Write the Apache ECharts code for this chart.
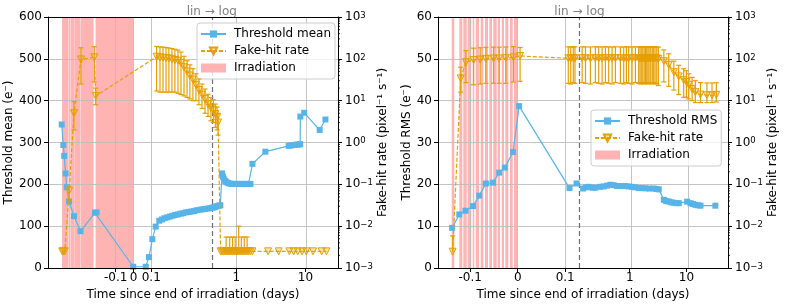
<!DOCTYPE html>
<html><head><meta charset="utf-8">
<script src="https://cdn.jsdelivr.net/npm/echarts@6/dist/echarts.min.js"></script>
<style>html,body{margin:0;padding:0;background:#fff}#c{width:785px;height:306px}</style>
</head><body><div id="c"></div>
<script>
// ---------- DATA (left panel: threshold mean) ----------
const tMeanA = [-0.403,-0.394,-0.389,-0.381,-0.375,-0.362,-0.334,-0.297,-0.216,-0.207,-0.001,0.069,0.087,0.106,0.125,0.145,0.16,0.175,0.19,0.205,0.22,0.235,0.25,0.265,0.28,0.295,0.31,0.325,0.34,0.355,0.37,0.385,0.40,0.415,0.43,0.45,0.47,0.49,0.51,0.535,0.56,0.585,0.62,0.64,0.66,0.69,0.72,0.76,0.80,0.85,0.90,0.95,1.0,1.05,1.1,1.2,1.3,1.4,1.5,1.6,1.71,2.63,5.73,6.2,6.8,7.5,8.0,8.4,8.45,9.6,16.1,19.5];
const meanA = [343,294,268,226,193,159,124,88,132,133,3,3,26,69,99,113,116,119,121,123,125,127,128,130,131,133,134,135,136,138,139,140,141,142,143,144,145,146,147,148,149,150,226,218,212,208,205,203,202,201,201,201,201,201,201,201,201,201,201,201,249,278,292,293,294,295,295,296,362,371,330,355];

const tFhrA = [-0.400,-0.394,-0.386,-0.361,-0.334,-0.295,-0.220,-0.212,
  0.130,0.149,0.166,0.183,0.199,0.216,0.233,0.250,0.267,0.284,0.301,0.317,0.334,0.351,0.368,0.385,0.402,0.419,0.435,0.464,0.496,0.525,0.543,
  0.59,0.62,0.65,0.68,0.71,0.74,0.77,0.80,0.84,0.88,0.92,0.96,1.0,1.04,1.08,1.13,1.18,1.24,1.30,1.36,1.43,1.51,1.6,
  1.71,2.88,4.1,5.86,6.77,7.74,8.96,10.3,12.9,17.2,20.2];
const fhrA = [0.0025,0.0025,0.0025,0.07,5.0,97,109,13,
  112,108,106,104,102,98,94,90,80,63,50,40,32,24,18,14,11,8.2,6.8,6,4.8,4,3,
  0.0025,0.0025,0.0025,0.0025,0.0025,0.0025,0.0025,0.0025,0.0025,0.0025,0.0025,0.0025,0.0025,0.0025,0.0025,0.0025,0.0025,0.0025,0.0025,0.0025,0.0025,0.0025,0.0025,
  0.0025,0.0025,0.0025,0.0025,0.0025,0.0025,0.0025,0.0025,0.0025,0.0025,0.0025];
const fhrUpA = [0,0,0,0.02,4.5,87,86,7,
  85,85,85,82,80,78,75,72,65,52,40,32,26,20,15,11,8,6,5,4.5,3.5,3,2,
  0,0,0,0,0.003,0,0,0.003,0,0.003,0,0.003,0,0,0.0075,0,0.003,0,0.003,0,0.003,0,0,
  0,0,0,0,0,0,0,0,0,0,0];
const fhrDownA = [0,0,0,0.028,3.0,72,81,5,
  95,92,90,88,86,82,78,75,66,50,38,29,22,14,10,7.5,6,4,3.5,3,2.5,2,1.5,
  0,0,0,0,0,0,0,0,0,0,0,0,0,0,0,0,0,0,0,0,0,0,0,
  0,0,0,0,0,0,0,0,0,0,0];
const irrStartA = [-0.401,-0.365,-0.351,-0.329,-0.295,-0.213];
const irrEndA   = [-0.367,-0.353,-0.330,-0.297,-0.224,-0.001];

// ---------- DATA (right panel: threshold RMS) ----------
const tRmsB = [-0.138,-0.123,-0.110,-0.094,-0.081,-0.067,-0.052,-0.039,-0.027,-0.010,0.003,0.109,0.124,0.151,0.17,0.189,0.22,0.248,0.3,0.348,0.4,0.457,0.52,0.6,0.7,0.84,0.95,1.1,1.25,1.44,1.65,1.89,2.2,2.65,2.95,3.25,4.0,4.4,4.88,5.4,6.0,6.6,7.35,10.3,11.8,13.0,14.4,16.0,17.7,32.4];
const rmsB = [9.6,12.8,13.7,14.8,17.3,20.2,20.4,22.8,24.0,27.7,38.7,19.1,20.2,19.0,19.3,19.4,19.2,19.2,19.4,19.5,19.7,19.9,19.8,19.6,19.6,19.6,19.5,19.4,19.3,19.1,19.1,19.05,19.0,19.0,18.9,18.8,16.3,16.0,15.9,15.7,15.6,15.5,15.5,15.85,15.5,15.3,15.1,15.0,14.9,14.9];

const tFhrB = [-0.137,-0.120,-0.109,-0.093,-0.079,-0.067,-0.051,-0.039,-0.025,-0.009,0.005,
  0.1065,0.1116,0.117,0.1206,0.145,0.166,0.203,0.248,0.284,0.326,0.373,0.426,0.489,0.56,0.685,0.784,0.875,0.96,1.1,1.26,1.44,
  1.52,1.6,1.7,1.8,1.9,2.0,2.1,2.2,2.35,2.5,2.65,2.8,3.0,3.2,
  4.0,4.88,6.0,7.3,8.95,10.0,11.0,12.6,14.4,17.7,23.0,28.3,33.7];
const fhrB = [0.00245,34,83,94,96,100,102,102,104,108,117,
  103,102,104,103,104,103,102,104,103,102,104,103,102,104,103,102,104,103,102,104,103,
  102,104,103,102,104,103,102,104,103,102,104,103,102,100,
  88,72,48,38,31,28,24,19,16,14,13.5,13.5,13.8];
const fhrUpB = [0.0034,29,74,86,88,88,88,88,88,88,70,
  90,90,90,90,90,90,90,90,90,90,90,90,90,90,90,90,90,90,90,90,90,
  90,90,90,90,90,90,90,90,90,90,90,90,90,90,
  75,60,40,32,27,24,20,17,14,13,13,13,13];
const fhrDownB = [0,18,56,70,71,74,76,76,78,80,88,
  77,77,77,77,77,77,77,77,77,77,77,77,77,77,77,77,77,77,77,77,77,
  77,77,77,77,77,77,77,77,77,77,77,77,77,77,
  60,50,30,24,19,16,13,9,7,5,4.5,4.5,4.5];
const irrStartB = [-0.1389,-0.1229,-0.1145,-0.1053,-0.0947,-0.0884,-0.0779,-0.0688,-0.0598,-0.0514,-0.0421,-0.0337,-0.0261,-0.0162,-0.0078];
const irrEndB   = [-0.1335,-0.1166,-0.1074,-0.0977,-0.0914,-0.0815,-0.0724,-0.0625,-0.0541,-0.0442,-0.0373,-0.0288,-0.0198,-0.0105,0.0];

// ---------- ticks / labels ----------
const xTickT = [-0.1, 0, 0.1, 1, 10];
const xTickLabels = ['-0.1', '0', '0.1', '1', '10'];
const yTicksA = [0,100,200,300,400,500,600];
const yTicksB = [0,10,20,30,40,50,60];
const logTicks = [0.001,0.01,0.1,1,10,100,1000];
const fhrLimit = 0.0025;

// ---------- styling ----------
const FONT = 'DejaVu Sans';
const BLUE = '#56B4E9', ORANGE = '#E69F00', PINK = '#ffb3b3', GRIDC = '#bdbdbd', GREY = '#808080';

// symlog-like x transform (linear up to t0, logarithmic after)
const PA = {t0:0.44, k:69/178, uMin:-0.48, uMax:1.149};
const PB = {t0:0.13, k:56.7/475, uMin:-0.1678, uMax:0.4427};
function fwd(t, P) { return t <= P.t0 ? t : P.t0 + P.k * Math.log10(t / P.t0); }

function xLabel(v, P) {
  let best = 0, bd = 1e9;
  xTickT.forEach((t, i) => { const d = Math.abs(fwd(t, P) - v); if (d < bd) { bd = d; best = i; } });
  return xTickLabels[best];
}
function logLabel(v) {
  const e = Math.round(Math.log10(v));
  return '{b|10}{s|' + (e < 0 ? '\u2212' + (-e) : String(e)) + '}';
}

function xAxes(gi, P) {
  return [{
    type:'value', gridIndex:gi, position:'bottom', min:P.uMin, max:P.uMax, z:10,
    axisLine:{onZero:false, lineStyle:{color:'#000', width:1}},
    axisTick:{show:true, customValues:xTickT.map(t => fwd(t, P)), length:4, lineStyle:{color:'#000'}},
    axisLabel:{customValues:xTickT.map(t => fwd(t, P)), formatter:v => xLabel(v, P), color:'#000', fontSize:12, margin:4, fontFamily:FONT, interval:0},
    splitLine:{show:false},
    name:'Time since end of irradiation (days)', nameLocation:'middle', nameGap:18,
    nameTextStyle:{color:'#000', fontSize:12, fontFamily:FONT}
  }, {
    type:'value', gridIndex:gi, position:'top', min:P.uMin, max:P.uMax, z:10,
    axisLine:{onZero:false, lineStyle:{color:'#000', width:1}},
    axisTick:{show:false}, axisLabel:{show:false}, splitLine:{show:false}
  }];
}
function yAxes(gi, ticks, name, nameGap) {
  return [{
    type:'value', gridIndex:gi, position:'left', min:ticks[0], max:ticks[ticks.length-1], interval:ticks[1]-ticks[0], z:10,
    axisLine:{show:true, onZero:false, lineStyle:{color:'#000', width:1}},
    axisTick:{show:true, length:4, lineStyle:{color:'#000'}},
    axisLabel:{color:'#000', fontSize:12, margin:6, fontFamily:FONT},
    splitLine:{show:false},
    name:name, nameLocation:'middle', nameGap:nameGap, nameRotate:90,
    nameTextStyle:{color:'#000', fontSize:12, fontFamily:FONT}
  }, {
    type:'log', logBase:10, gridIndex:gi, position:'right', min:0.001, max:1000, z:10,
    axisLine:{show:true, onZero:false, lineStyle:{color:'#000', width:1}},
    axisTick:{show:true, customValues:logTicks, length:4, lineStyle:{color:'#000'}},
    axisLabel:{customValues:logTicks, formatter:logLabel, margin:7, color:'#000',
      rich:{b:{fontSize:12, fontFamily:FONT, color:'#000', lineHeight:12, padding:[3,0,0,0], verticalAlign:'bottom'},
            s:{fontSize:8.5, fontFamily:FONT, color:'#000', lineHeight:9, verticalAlign:'top'}}},
    splitLine:{show:false},
    name:'Fake-hit rate (pixel\u207B\u00B9 s\u207B\u00B9)', nameLocation:'middle', nameGap:38, nameRotate:90,
    nameTextStyle:{color:'#000', fontSize:12, fontFamily:FONT}
  }];
}

function bandRender(params, api) {
  const cs = params.coordSys;
  const x0 = api.coord([api.value(0), 0])[0];
  const x1 = api.coord([api.value(1), 0])[0];
  return {type:'rect', shape:{x:x0, y:cs.y, width:x1 - x0, height:cs.height}, style:{fill:PINK}};
}
function errRender(params, api) {
  const x = api.value(0), lo = api.value(1), hi = api.value(2), lowCap = api.value(3);
  if (hi <= lo) return null;
  const top = api.coord([x, hi]), bot = api.coord([x, lo]);
  const cw = 2.5, st = {stroke:ORANGE, lineWidth:1.2};
  const ch = [
    {type:'line', shape:{x1:top[0], y1:top[1], x2:bot[0], y2:bot[1]}, style:st},
    {type:'line', shape:{x1:top[0]-cw, y1:top[1], x2:top[0]+cw, y2:top[1]}, style:st}
  ];
  if (lowCap) ch.push({type:'line', shape:{x1:bot[0]-cw, y1:bot[1], x2:bot[0]+cw, y2:bot[1]}, style:st});
  return {type:'group', children:ch};
}
function minorRender(params, api) {
  const cs = params.coordSys;
  const y = api.coord([api.value(0), api.value(1)])[1];
  const x = cs.x + cs.width;
  return {type:'line', shape:{x1:x, y1:y, x2:x + 2, y2:y}, style:{stroke:'#000', lineWidth:0.8}};
}
const minorVals = [];
for (let d = -3; d < 3; d++) for (let m = 2; m <= 9; m++) minorVals.push(m * Math.pow(10, d));

function panelSeries(P, xi, yl, yr, yTicks, tMain, vMain, mainName, tF, vF, upF, dnF, irrS, irrE) {
  return [
    {type:'custom', name:'Irradiation', xAxisIndex:xi, yAxisIndex:yl, z:1, silent:true,
     itemStyle:{color:PINK}, renderItem:bandRender, encode:{x:[0,1]},
     data:irrS.map((s, i) => [fwd(s, P), fwd(irrE[i], P)])},
    {type:'line', xAxisIndex:xi, yAxisIndex:yl, data:[], silent:true,
     markLine:{z:1.5, silent:true, symbol:['none','none'], animation:false, label:{show:false},
       lineStyle:{color:GRIDC, width:0.9, type:'solid'},
       data:[...xTickT.map(t => ({xAxis:fwd(t, P)})), ...yTicks.slice(1, -1).map(v => ({yAxis:v}))]}},
    {type:'line', xAxisIndex:xi, yAxisIndex:yr, data:[], silent:true,
     markLine:{z:1.6, silent:true, symbol:['none','none'], animation:false,
       data:[
        {xAxis:P.t0, lineStyle:{type:[5,3], color:'#707070', width:1.2},
         label:{show:true, position:'end', formatter:'lin \u2192 log', color:GREY, fontSize:12, fontFamily:FONT, distance:-1}},
        {yAxis:fhrLimit, lineStyle:{type:[1.5,3], color:'#707070', width:1.3},
         label:{show:true, position:'insideEndBottom', formatter:'FHR measurement sensitivity limit', color:GREY, fontSize:10, fontFamily:FONT, distance:3}}
       ]}},
    {type:'line', name:mainName, xAxisIndex:xi, yAxisIndex:yl, z:3,
     data:tMain.map((t, i) => [fwd(t, P), vMain[i]]),
     symbol:'rect', symbolSize:6, showAllSymbol:true,
     lineStyle:{color:BLUE, width:1.2}, itemStyle:{color:BLUE}},
    {type:'custom', xAxisIndex:xi, yAxisIndex:yr, z:4, silent:true, renderItem:errRender, encode:{x:0, y:[1,2]},
     data:tF.map((t, i) => {
       let lo = vF[i] - dnF[i], cap = 1;
       if (lo <= 0.001) { lo = 0.001; cap = 0; }
       if (dnF[i] === 0) cap = 0;
       return [fwd(t, P), lo, vF[i] + upF[i], cap];
     })},
    {type:'line', name:'Fake-hit rate', xAxisIndex:xi, yAxisIndex:yr, z:5,
     data:tF.map((t, i) => [fwd(t, P), vF[i]]),
     symbol:'triangle', symbolRotate:180, symbolSize:7, showAllSymbol:true,
     lineStyle:{color:ORANGE, width:1.2, type:[4,2]},
     itemStyle:{color:'rgba(230,159,0,0.25)', borderColor:ORANGE, borderWidth:1}},
    {type:'custom', xAxisIndex:xi, yAxisIndex:yr, z:10, silent:true, renderItem:minorRender, encode:{x:0, y:1},
     data:minorVals.map(v => [P.uMin, v])}
  ];
}

function legendFor(first, left, top) {
  return {
    data:[{name:first}, {name:'Fake-hit rate'}, {name:'Irradiation', icon:'rect'}],
    left:left, top:top, orient:'vertical', itemWidth:25, itemHeight:9, itemGap:3,
    padding:[4, 4, 4, 3], backgroundColor:'rgba(255,255,255,0.8)', borderColor:'#cccccc', borderWidth:1, borderRadius:3,
    selectedMode:false,
    textStyle:{fontSize:12, fontFamily:FONT, color:'#000', lineHeight:14, padding:[0,0,0,3]}
  };
}

const option = {
  animation:false,
  textStyle:{fontFamily:FONT},
  grid:[{left:48, top:17, width:290, height:251}, {left:438, top:17, width:290, height:251}],
  xAxis:[...xAxes(0, PA), ...xAxes(1, PB)],
  yAxis:[...yAxes(0, yTicksA, 'Threshold mean (e\u207B)', 27), ...yAxes(1, yTicksB, 'Threshold RMS (e\u207B)', 21)],
  legend:[legendFor('Threshold mean', 197, 23), legendFor('Threshold RMS', 591, 110)],
  series:[
    ...panelSeries(PA, 0, 0, 1, yTicksA, tMeanA, meanA, 'Threshold mean', tFhrA, fhrA, fhrUpA, fhrDownA, irrStartA, irrEndA),
    ...panelSeries(PB, 2, 2, 3, yTicksB, tRmsB, rmsB, 'Threshold RMS', tFhrB, fhrB, fhrUpB, fhrDownB, irrStartB, irrEndB)
  ]
};
const chart = echarts.init(document.getElementById('c'), null, {renderer:'canvas'});
chart.setOption(option);
</script>
</body></html>
